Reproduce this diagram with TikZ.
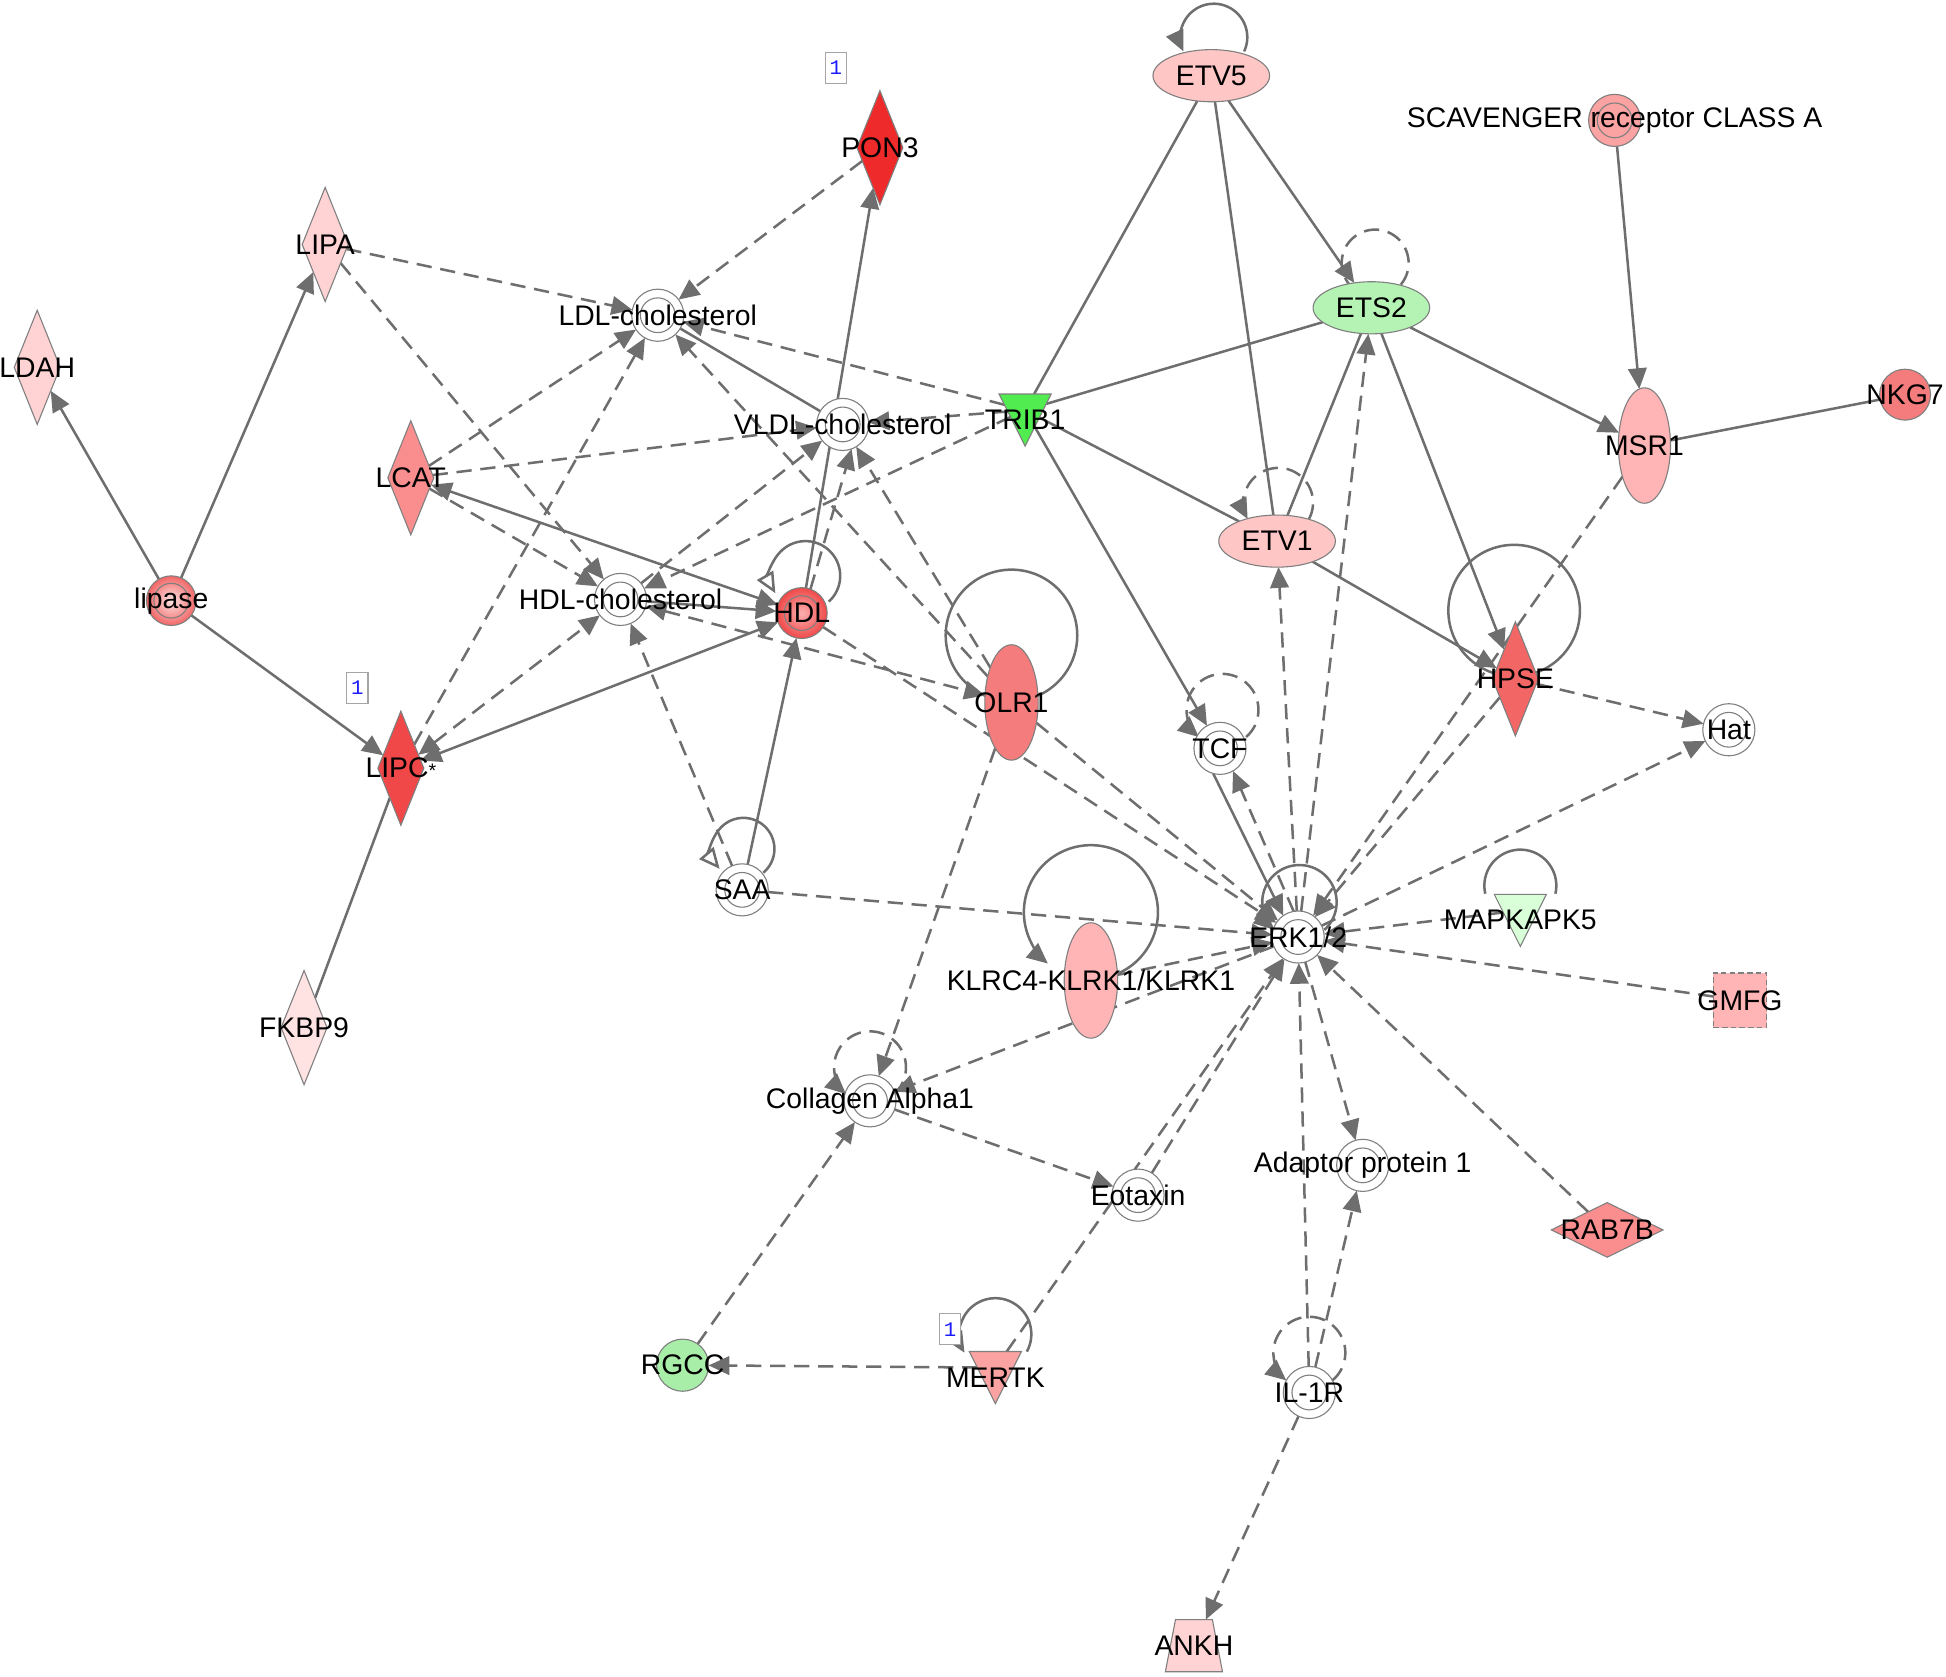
\documentclass[tikz,border=0pt]{standalone}
\usepackage{fontspec}
\setmainfont{Liberation Sans}
\setmonofont{Liberation Mono}
\usetikzlibrary{shapes.geometric,arrows.meta,calc}

\definecolor{edgegray}{HTML}{6E6E6E}
\definecolor{shapegray}{HTML}{7F7F7F}
\definecolor{pinkA}{HTML}{FFD3D3}
\definecolor{pinkB}{HTML}{FFE3E3}
\definecolor{pinkC}{HTML}{FFC6C6}
\definecolor{pinkD}{HTML}{FFB5B5}
\definecolor{pinkE}{HTML}{FBA2A2}
\definecolor{redA}{HTML}{FA8E8E}
\definecolor{redB}{HTML}{F47C7C}
\definecolor{redC}{HTML}{F26666}
\definecolor{redD}{HTML}{F04848}
\definecolor{redE}{HTML}{EE2A2A}
\definecolor{greenA}{HTML}{50EC50}
\definecolor{greenB}{HTML}{B5F3B5}
\definecolor{greenC}{HTML}{A8EDA8}
\definecolor{greenD}{HTML}{D8FFD8}
\definecolor{noteblue}{HTML}{1A1AFF}

\pgfdeclarelayer{bg}
\pgfsetlayers{bg,main}

% loop on a node: style, node, centre offset, radius, start, end
\newcommand{\selfloop}[6]{\draw[#1] ($(#2)+(#3)$) ++(#5:#4) arc[start angle=#5, end angle=#6, radius=#4];}

\tikzset{
  gene/.style={draw=shapegray, line width=0.5pt, inner sep=0pt, outer sep=0pt},
  ring/.style={path picture={\draw[shapegray, line width=0.5pt] (path picture bounding box.center) circle[radius=0.28cm];}},
  dia/.style={gene, diamond, minimum width=0.74cm, minimum height=1.84cm},
  oval/.style={gene, ellipse, minimum width=1.88cm, minimum height=0.84cm},
  tall/.style={gene, ellipse, minimum width=0.86cm, minimum height=1.86cm},
  dcirc/.style={gene, circle, fill=white, minimum size=0.84cm, ring},
  ball/.style={gene, circle, minimum size=0.84cm},
  vtri/.style={gene, isosceles triangle, isosceles triangle apex angle=53, isosceles triangle stretches, shape border rotate=270, minimum width=0.84cm, minimum height=0.84cm, anchor=north},
  trap/.style={gene, trapezium, trapezium left angle=79, trapezium right angle=79, inner xsep=0.297cm, inner ysep=0.42cm},
  trilbl/.style={lbl, anchor=center, yshift=-0.42cm},
  lbl/.style={inner sep=0pt},
  note/.style={draw=shapegray!70, line width=0.5pt, fill=white, text=noteblue, font=\ttfamily\fontsize{9.5}{10}\selectfont, minimum width=0.34cm, minimum height=0.5cm, inner sep=0pt},
  rel/.style={draw=edgegray, line width=1.15pt},
  reld/.style={rel, dash pattern=on 7pt off 4pt},
  openhead/.style={arrows={-Triangle[length=9.5pt,width=8.5pt,fill=white]}}
}

\begin{document}
\begin{tikzpicture}[x=0.02cm, y=0.02cm, font=\fontsize{13}{15}\selectfont, >={Triangle[length=9.5pt,width=8.5pt]}]
\useasboundingbox (0,0) rectangle (1568,-1351);
\begin{pgfonlayer}{bg}
  \fill[white] (0,0) rectangle (1568,-1351);
\end{pgfonlayer}

% lipid side
\node[dia, fill=pinkA, label={[lbl]center:LDAH}] (ldah) at (30,-296) {};
\node[dia, fill=pinkA, label={[lbl]center:LIPA}] (lipa) at (262,-197) {};
\node[dia, fill=redA, label={[lbl]center:LCAT}] (lcat) at (331,-385) {};
\node[ball, minimum size=0.8cm, shading=radial, inner color=pinkA!60!white, outer color=redC, ring, label={[lbl]center:lipase}] (lipase) at (138,-484) {};
\node[dia, fill=redD, label={[lbl]center:{LIPC{\fontsize{9}{9}\selectfont*}}}] (lipc) at (323,-619) {};
\node[dia, fill=pinkB, label={[lbl]center:FKBP9}] (fkbp9) at (245,-828) {};
\node[dia, fill=redE, label={[lbl]center:PON3}] (pon3) at (709,-119) {};
\node[dcirc, label={[lbl]center:LDL-cholesterol}] (ldl) at (530,-254) {};
\node[dcirc, label={[lbl]center:VLDL-cholesterol}] (vldl) at (679,-342) {};
\node[dcirc, label={[lbl]center:HDL-cholesterol}] (hdlc) at (500,-483) {};
\node[ball, minimum size=0.82cm, shading=radial, inner color=redA!70!white, outer color=redD, ring, label={[lbl]center:HDL}] (hdl) at (646,-494) {};
\node[dcirc, label={[lbl]center:SAA}] (saa) at (598,-717) {};
\node[tall, fill=redB, label={[lbl]center:OLR1}] (olr1) at (815,-566) {};
\node[tall, fill=pinkD, label={[lbl]center:KLRC4-KLRK1/KLRK1}] (klrc) at (879,-790) {};
\node[dcirc, label={[lbl]center:Collagen Alpha1}] (coll) at (701,-887) {};
\node[dcirc, label={[lbl]center:Eotaxin}] (eotaxin) at (917,-963) {};
\node[ball, fill=greenC, label={[lbl]center:RGCC}] (rgcc) at (550,-1100) {};
\node[vtri, fill=pinkE, label={[trilbl]north:MERTK}] (mertk) at (802,-1089) {};

% transcription side
\node[vtri, fill=greenA, label={[trilbl]north:TRIB1}] (trib1) at (826,-317.5) {};
\node[oval, fill=pinkC, label={[lbl]center:ETV5}] (etv5) at (976,-61) {};
\node[oval, fill=greenB, label={[lbl]center:ETS2}] (ets2) at (1105,-248) {};
\node[oval, fill=pinkC, label={[lbl]center:ETV1}] (etv1) at (1029,-436) {};
\node[dcirc, label={[lbl]center:TCF}] (tcf) at (983,-603) {};
\node[dcirc, label={[lbl]center:ERK1/2}] (erk) at (1046,-755) {};
\node[tall, minimum width=0.84cm, fill=pinkD, label={[lbl]center:MSR1}] (msr1) at (1325,-359) {};
\node[ball, minimum size=0.82cm, fill=redB, label={[lbl]center:NKG7}] (nkg7) at (1535,-318) {};
\node[dcirc, fill=pinkE, label={[lbl]center:SCAVENGER receptor CLASS A}] (scav) at (1301,-97) {};
\node[dia, fill=redC, label={[lbl]center:HPSE}] (hpse) at (1221,-547) {};
\node[dcirc, label={[lbl]center:Hat}] (hat) at (1393,-588) {};
\node[vtri, fill=greenD, label={[trilbl]north:MAPKAPK5}] (mapk) at (1225,-720.6) {};
\node[gene, rectangle, dash pattern=on 2.5pt off 1.5pt, fill=pinkD, minimum width=0.86cm, minimum height=0.88cm, label={[lbl]center:GMFG}] (gmfg) at (1402,-806) {};
\node[dia, minimum width=1.8cm, minimum height=0.88cm, fill=redA, label={[lbl]center:RAB7B}] (rab7b) at (1295,-991) {};
\node[dcirc, label={[lbl]center:Adaptor protein 1}] (adapt) at (1098,-939) {};
\node[dcirc, label={[lbl]center:IL-1R}] (il1r) at (1055,-1122) {};
\node[trap, fill=pinkA, label={[lbl]center:ANKH}] (ankh) at (962,-1326) {};

\node[note] (onepon) at (673.5,-54.5) {1};
\node[note] (onelipc) at (288,-554) {1};
\node[note] (onemertk) at (765.5,-1071) {1};

\begin{pgfonlayer}{bg}
  % solid relations
  \draw[rel,->] (lipase) -- (ldah);
  \draw[rel,->] (lipase) -- (lipa);
  \draw[rel,->] (lipase) -- (lipc);
  \draw[rel] (lipc) -- (fkbp9);
  \draw[rel,<->] (lcat) -- (hdl);
  \draw[rel,<->] (lipc) -- (hdl);
  \draw[rel,->] (hdlc) -- (hdl);
  \draw[rel,->] (saa) -- (hdl);
  \draw[rel,->] (hdl) -- (pon3);
  \draw[rel] (vldl) -- (ldl);
  \draw[rel] (etv5) -- (trib1);
  \draw[rel] (ets2) -- (trib1);
  \draw[rel] (trib1) -- (etv1);
  \draw[rel,->] (trib1) -- (tcf);
  \draw[rel,->] (etv5) -- (ets2);
  \draw[rel] (etv5) -- (etv1);
  \draw[rel] (etv1) -- (ets2);
  \draw[rel,->] (ets2) -- (msr1);
  \draw[rel,->] (ets2) -- (hpse);
  \draw[rel,->] (etv1) -- (hpse);
  \draw[rel,->] (scav) -- (msr1);
  \draw[rel] (msr1) -- (nkg7);
  \draw[rel,->] (tcf.-105) -- (erk.125);

  % dashed relations
  \draw[reld,->] (lipa) -- (ldl);
  \draw[reld,->] (lipa) -- (hdlc);
  \draw[reld,->] (lcat) -- (ldl);
  \draw[reld,->] (lcat) -- (vldl);
  \draw[reld,->] (lcat) -- (hdlc);
  \draw[reld,->] (lipc) -- (ldl);
  \draw[reld,<->] (lipc) -- (hdlc);
  \draw[reld,->] (pon3) -- (ldl);
  \draw[reld,->] (trib1) -- (ldl);
  \draw[reld,->] (trib1) -- (vldl);
  \draw[reld,->] (trib1) -- (hdlc);
  \draw[reld,->] (hdlc) -- (vldl);
  \draw[reld,->] (hdl.70) -- (vldl.-70);
  \draw[reld,->] (olr1) -- (vldl);
  \draw[reld,->] (olr1) -- (ldl);
  \draw[reld,<->] (hdlc) -- (olr1);
  \draw[reld,->] (saa) -- (hdlc);
  \draw[reld,->] (saa) -- (erk);
  \draw[reld,->] (hdl) -- (erk);
  \draw[reld,->] (olr1) -- (erk);
  \draw[reld,->] (olr1) -- (coll);
  \draw[reld,->] (klrc) -- (erk);
  \draw[reld,->] (erk) -- (coll);
  \draw[reld,->] (coll) -- (eotaxin);
  \draw[reld,->] (rgcc) -- (coll);
  \draw[reld,->] (mertk) -- (rgcc);
  \draw[reld,->] (mertk) -- (erk);
  \draw[reld,->] (eotaxin) -- (erk);
  \draw[reld,->] (il1r) -- (erk);
  \draw[reld,->] (il1r) -- (adapt);
  \draw[reld,->] (erk) -- (adapt);
  \draw[reld,->] (il1r) -- (ankh);
  \draw[reld,->] (rab7b) -- (erk);
  \draw[reld,->] (gmfg) -- (erk);
  \draw[reld,->] (mapk) -- (erk);
  \draw[reld,->] (erk) -- (hat);
  \draw[reld,->] (hpse) -- (hat);
  \draw[reld,->] (hpse) -- (erk);
  \draw[reld,->] (msr1) -- (erk);
  \draw[reld,->] (erk) -- (etv1);
  \draw[reld,->] (erk) -- (ets2);
  \draw[reld,->] (erk.100) -- (tcf.-60);

  % self loops
  \selfloop{rel,->}{etv5}{2,31}{27}{-25}{205}
  \selfloop{reld}{ets2}{3,36}{27}{-40}{220}
  \selfloop{reld,->}{etv1}{1,31}{28}{-28}{208}
  \selfloop{reld,->}{tcf}{2,31}{29}{-49}{229}
  \selfloop{rel,->}{erk}{1,28}{30}{-48}{228}
  \selfloop{rel}{mapk.north}{0,7}{29}{-13}{193}
  \selfloop{rel,->}{mertk.north}{0,14}{29}{-29}{211}
  \selfloop{rel,->}{klrc}{0,55}{54}{-66}{230}
  \selfloop{rel,openhead}{hdl}{3,30}{28}{-48}{210}
  \selfloop{rel,openhead}{saa}{1,33}{25}{-50}{220}
  \selfloop{reld,->}{coll}{0,27}{29}{-48}{228}
  \selfloop{reld,->}{il1r}{0,32}{29}{-50}{230}
  \draw[rel] ($(olr1)+(0,54)$) circle[radius=53];
  \draw[rel] ($(hpse)+(-1,55)$) circle[radius=53];
\end{pgfonlayer}
\end{tikzpicture}
\end{document}
